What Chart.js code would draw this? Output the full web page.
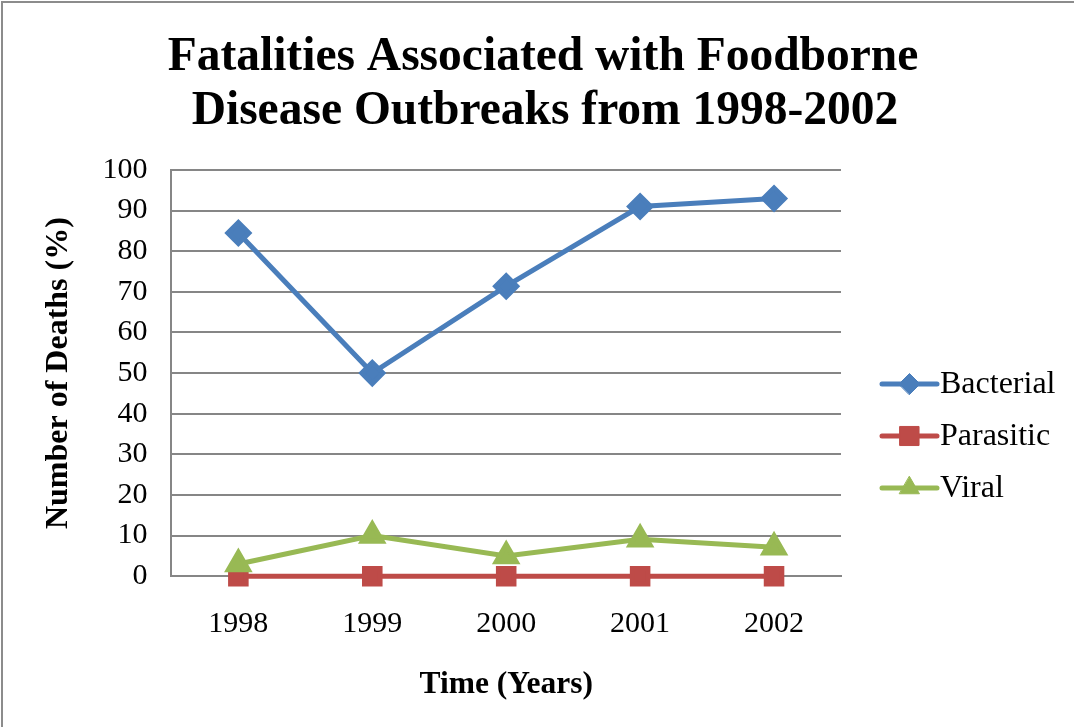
<!DOCTYPE html>
<html>
<head>
<meta charset="utf-8">
<script src="https://cdn.jsdelivr.net/npm/chart.js@4.4.0/dist/chart.umd.min.js"></script>
<style>
  html, body { margin: 0; padding: 0; background: #fff; overflow: hidden; }
</style>
</head>
<body>
<canvas id="chart" width="1074" height="727"></canvas>
<script>
const years = ['1998', '1999', '2000', '2001', '2002'];
const bacterial = [84.5, 50, 71.4, 91, 93];
const parasitic = [0, 0, 0, 0, 0];
const viral = [3, 10, 5, 9.1, 7.1];
const yTicks = { min: 0, max: 100, step: 10 };
const titleLines = ['Fatalities Associated with Foodborne', 'Disease Outbreaks from 1998-2002'];

const serif = "'Liberation Serif', 'Times New Roman', serif";

// frame, title and legend drawn by hand (Excel look: line runs through the marker)
const excelBits = {
  id: 'excelBits',
  beforeDraw(chart) {
    const ctx = chart.ctx;
    ctx.save();
    ctx.fillStyle = '#fff';
    ctx.fillRect(0, 0, chart.width, chart.height);
    ctx.strokeStyle = '#8c8c8c';
    ctx.lineWidth = 2;
    ctx.beginPath();
    ctx.moveTo(2, chart.height);
    ctx.lineTo(2, 2);
    ctx.lineTo(chart.width, 2);
    ctx.stroke();
    ctx.restore();
  },
  afterDraw(chart) {
    const ctx = chart.ctx;
    ctx.save();
    ctx.fillStyle = '#000';
    ctx.textAlign = 'center';
    ctx.textBaseline = 'alphabetic';
    ctx.font = 'bold 47.5px ' + serif;
    ctx.fillText(titleLines[0], 543, 70);
    ctx.fillText(titleLines[1], 545, 124);
    ctx.restore();

    const x0 = 882, x1 = 937;
    let y = 384;
    chart.data.datasets.forEach(ds => {
      ctx.save();
      ctx.strokeStyle = ds.borderColor;
      ctx.lineWidth = 5;
      ctx.lineCap = 'round';
      ctx.beginPath();
      ctx.moveTo(x0, y);
      ctx.lineTo(x1, y);
      ctx.stroke();
      ctx.fillStyle = ds.backgroundColor;
      ctx.strokeStyle = ds.backgroundColor;
      ctx.lineWidth = 1;
      Chart.helpers.drawPoint(ctx, {
        pointStyle: ds.pointStyle,
        radius: ds.pointStyle === 'rect' ? 13.5 : ds.pointRadius,
        rotation: 0,
        borderWidth: 1
      }, (x0 + x1) / 2, y);
      ctx.fillStyle = '#000';
      ctx.font = '32px ' + serif;
      ctx.textAlign = 'left';
      ctx.textBaseline = 'middle';
      ctx.fillText(ds.label, 940, y + 1);
      ctx.restore();
      y += 52;
    });
  }
};

new Chart(document.getElementById('chart'), {
  type: 'line',
  data: {
    labels: years,
    datasets: [{
      label: 'Bacterial',
      data: bacterial,
      borderColor: '#4a7ebb',
      backgroundColor: '#4a7ebb',
      borderWidth: 5,
      pointStyle: 'rectRot',
      pointRadius: 10.5,
      clip: false,
      order: 3
    }, {
      label: 'Parasitic',
      data: parasitic,
      borderColor: '#be4b48',
      backgroundColor: '#be4b48',
      borderWidth: 5,
      pointStyle: 'rect',
      pointRadius: 11,
      clip: false,
      order: 2
    }, {
      label: 'Viral',
      data: viral,
      borderColor: '#98b954',
      backgroundColor: '#98b954',
      borderWidth: 5,
      pointStyle: 'triangle',
      pointRadius: 11.5,
      clip: false,
      order: 1
    }]
  },
  options: {
    responsive: false,
    animation: false,
    layout: { padding: { left: 40, right: 233, top: 170, bottom: 23 } },
    plugins: {
      legend: { display: false },
      tooltip: { enabled: false },
      title: { display: false }
    },
    scales: {
      x: {
        offset: true,
        grid: { display: false, drawTicks: false },
        border: { color: '#868686', width: 2 },
        ticks: { color: '#000', font: { family: serif, size: 30 }, padding: 30 },
        title: { display: true, text: 'Time (Years)', color: '#000', font: { family: serif, size: 31.5, weight: 'bold' }, padding: { top: -6, bottom: 0 } }
      },
      y: {
        min: yTicks.min,
        max: yTicks.max,
        ticks: { stepSize: yTicks.step, color: '#000', font: { family: serif, size: 30 }, padding: 24 },
        grid: { color: '#868686', lineWidth: 2, drawTicks: false },
        border: { color: '#868686', width: 2 },
        title: { display: true, text: 'Number of Deaths (%)', color: '#000', font: { family: serif, size: 32, weight: 'bold' }, padding: { top: 0, bottom: 0 } }
      }
    }
  },
  plugins: [excelBits]
});
</script>
</body>
</html>
